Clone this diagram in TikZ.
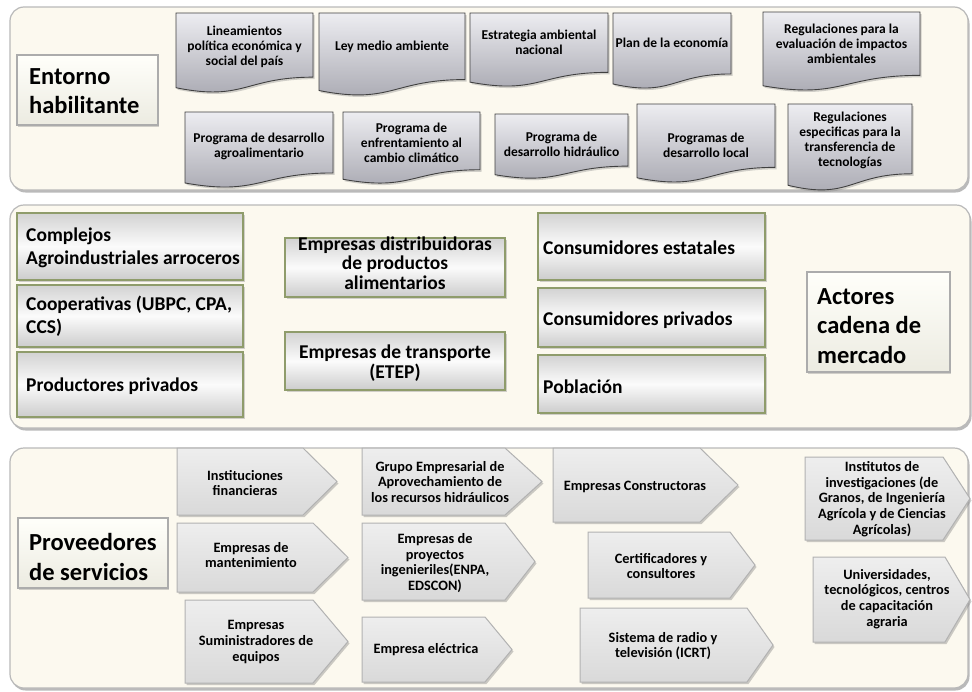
\documentclass[tikz,border=0pt]{standalone}
\usepackage{fontspec}
\setmainfont{Carlito}
\usetikzlibrary{shadows}
\definecolor{cream}{HTML}{FCF9EF}
\definecolor{labeltop}{HTML}{FFFFFA}
\definecolor{labelbot}{HTML}{ECEBE1}
\definecolor{docTop}{HTML}{EDEDF1}
\definecolor{docBot}{HTML}{A6A6AF}
\definecolor{olivebd}{HTML}{8F9C6B}
\definecolor{marbleTop}{HTML}{EEEEEE}
\definecolor{marbleBot}{HTML}{D9D9D9}
\tikzset{
 panel/.style={fill=cream, draw=gray!55, line width=1.2pt, rounded corners=14pt,
   drop shadow={shadow xshift=1.5pt, shadow yshift=-2.5pt, opacity=0.45, fill=gray!80!black}},
 labelbox/.style={top color=labeltop, bottom color=labelbot, draw=gray!65, line width=2pt,
   drop shadow={shadow xshift=1pt, shadow yshift=-1.5pt, opacity=0.35}},
 labeltext/.style={font=\fontsize{24.5}{29.5}\selectfont\bfseries, align=left, inner sep=0pt, anchor=west},
 docfill/.style={top color=docTop, bottom color=docBot, draw=black!75, line width=0.9pt,
   drop shadow={shadow xshift=1.5pt, shadow yshift=-2pt, opacity=0.35}},
 doctext/.style={font=\fontsize{13.5}{15}\selectfont\bfseries, align=center, inner sep=0pt},
 midfill/.style={draw=olivebd, line width=1.3pt, top color=gray!35, bottom color=gray!40, middle color=gray!3,
   drop shadow={shadow xshift=1.5pt, shadow yshift=-2pt, opacity=0.35}},
 midtext/.style={font=\fontsize{19.5}{23.5}\selectfont\bfseries, inner sep=0pt},
 arrfill/.style={top color=marbleTop, bottom color=marbleBot, draw=gray!60, line width=1pt,
   drop shadow={shadow xshift=1.5pt, shadow yshift=-2pt, opacity=0.4}},
 arrtext/.style={font=\fontsize{14.3}{15.7}\selectfont\bfseries, align=center, inner sep=0pt},
}
% document shape: name, x1, y1, x2, y2, text y, text
\newcommand\docshape[7]{%
  \pgfmathsetmacro\dsh{#5-#3}%
  \pgfmathsetmacro\dsm{(#2+#4)/2}%
  \pgfmathsetmacro\dsr{#3+0.802*\dsh}%
  \pgfmathsetmacro\dsl{#3+0.934*\dsh}%
  \pgfmathsetmacro\dsc{#3+1.107*\dsh}%
  \path[docfill] (#2,#3) -- (#4,#3) -- (#4,\dsr) .. controls (\dsm,\dsr) and (\dsm,\dsc) .. (#2,\dsl) -- cycle;
  \node[doctext] (#1) at (\dsm,#6) {#7};
}
% pentagon arrow: name, x1, y1, xb, xt, y2, text x, text y, text
\newcommand\arrowshape[9]{%
  \pgfmathsetmacro\asm{(#3+#6)/2}%
  \path[arrfill] (#2,#3) -- (#4,#3) -- (#5,\asm) -- (#4,#6) -- (#2,#6) -- cycle;
  \node[arrtext] (#1) at (#7,#8) {#9};
}
\begin{document}
\begin{tikzpicture}[x=1pt,y=-1pt]
\useasboundingbox (0,0) rectangle (972,691);
\fill[white] (0,0) rectangle (972,691);

% ---------- panels ----------
\path[panel] (10,7) rectangle (968,190);
\path[panel] (10,205) rectangle (970,428);
\path[panel] (10,448) rectangle (968,688);

% ---------- Entorno habilitante ----------
\path[labelbox] (17,55) rectangle (158,125);
\node[labeltext] (entorno) at (29,91) {Entorno\\habilitante};

\docshape{lineamientos}{176}{13}{313}{93}{47}{Lineamientos\\política económica y\\social del país}
\docshape{ley}{319}{13}{465}{96}{47}{Ley  medio ambiente}
\docshape{estrategia}{470}{13}{608}{87}{42}{Estrategia ambiental\\nacional}
\docshape{plan}{613}{13}{731}{89}{43}{Plan de la economía}
\docshape{regeval}{763}{12}{920}{91}{44}{Regulaciones  para la\\evaluación de impactos\\ambientales}

\docshape{agro}{185}{112}{333}{188}{146}{Programa de desarrollo\\agroalimentario}
\docshape{clima}{343}{112}{480}{184}{143}{Programa de\\enfrentamiento al\\cambio climático}
\docshape{hidra}{495}{114}{628}{179}{144}{Programa de\\desarrollo hidráulico}
\docshape{local}{637}{104}{775}{183}{145}{Programas de\\desarrollo local}
\docshape{regtrans}{788}{104}{912}{191}{140}{Regulaciones\\especificas para la\\transferencia de\\tecnologías}

% ---------- Actores cadena de mercado ----------
\path[midfill] (17,213) rectangle (243,280);
\node[midtext, anchor=west, align=left] (complejos) at (26,248) {Complejos\\Agroindustriales arroceros};
\path[midfill] (17,285) rectangle (243,347);
\node[midtext, anchor=west, align=left] (coop) at (26,316) {Cooperativas (UBPC, CPA,\\CCS)};
\path[midfill] (17,352) rectangle (243,417);
\node[midtext, anchor=west] (prodpriv) at (26,386) {Productores privados};

\path[midfill] (285,238) rectangle (505,297);
\node[midtext, align=center, font=\fontsize{19.5}{19.5}\selectfont\bfseries] (distrib) at (395,263) {Empresas distribuidoras\\de productos\\alimentarios};
\path[midfill] (285,332) rectangle (505,390);
\node[midtext, align=center, font=\fontsize{19.5}{19.5}\selectfont\bfseries] (transporte) at (395,363) {Empresas de transporte\\(ETEP)};

\path[midfill] (538,213) rectangle (765,280);
\node[midtext, anchor=west] (estatales) at (543,248) {Consumidores estatales};
\path[midfill] (538,288) rectangle (765,347);
\node[midtext, anchor=west] (privados) at (543,320) {Consumidores privados};
\path[midfill] (538,355) rectangle (765,413);
\node[midtext, anchor=west] (poblacion) at (543,387) {Población};

\path[labelbox] (807,272) rectangle (950,372);
\node[labeltext] (actores) at (817,326) {Actores\\cadena de\\mercado};

% ---------- Proveedores de servicios ----------
\path[labelbox] (18,518) rectangle (168,588);
\node[labeltext] (proveedores) at (29,557) {Proveedores\\de servicios};

\arrowshape{financieras}{177}{448}{303}{337}{515}{245}{483}{Instituciones\\financieras}
\arrowshape{mantenimiento}{177}{523}{313}{348}{592}{251}{555}{Empresas de\\mantenimiento}
\arrowshape{suministradores}{185}{600}{313}{348}{683}{256}{642}{Empresas\\Suministradores de\\equipos}
\arrowshape{grupo}{362}{448}{505}{542}{515}{440}{482}{Grupo Empresarial de\\Aprovechamiento de\\los recursos hidráulicos}
\arrowshape{proyectos}{362}{523}{505}{535}{600}{435}{563}{Empresas de\\proyectos\\ingenieriles(ENPA,\\EDSCON)}
\arrowshape{electrica}{362}{617}{485}{512}{682}{426}{650}{Empresa eléctrica}
\arrowshape{constructoras}{553}{448}{700}{738}{522}{635}{487}{Empresas Constructoras}
\arrowshape{certificadores}{588}{532}{730}{755}{598}{661}{566}{Certificadores y\\consultores}
\arrowshape{radio}{580}{608}{747}{773}{682}{663}{646}{Sistema de radio y\\televisión (ICRT)}
\arrowshape{institutos}{805}{457}{943}{970}{540}{882}{499}{Institutos de\\investigaciones  (de\\Granos, de Ingeniería\\Agrícola y de Ciencias\\Agrícolas)}
\arrowshape{universidades}{813}{557}{945}{970}{642}{887}{599}{Universidades,\\tecnológicos, centros\\de capacitación\\agraria}
\end{tikzpicture}
\end{document}
